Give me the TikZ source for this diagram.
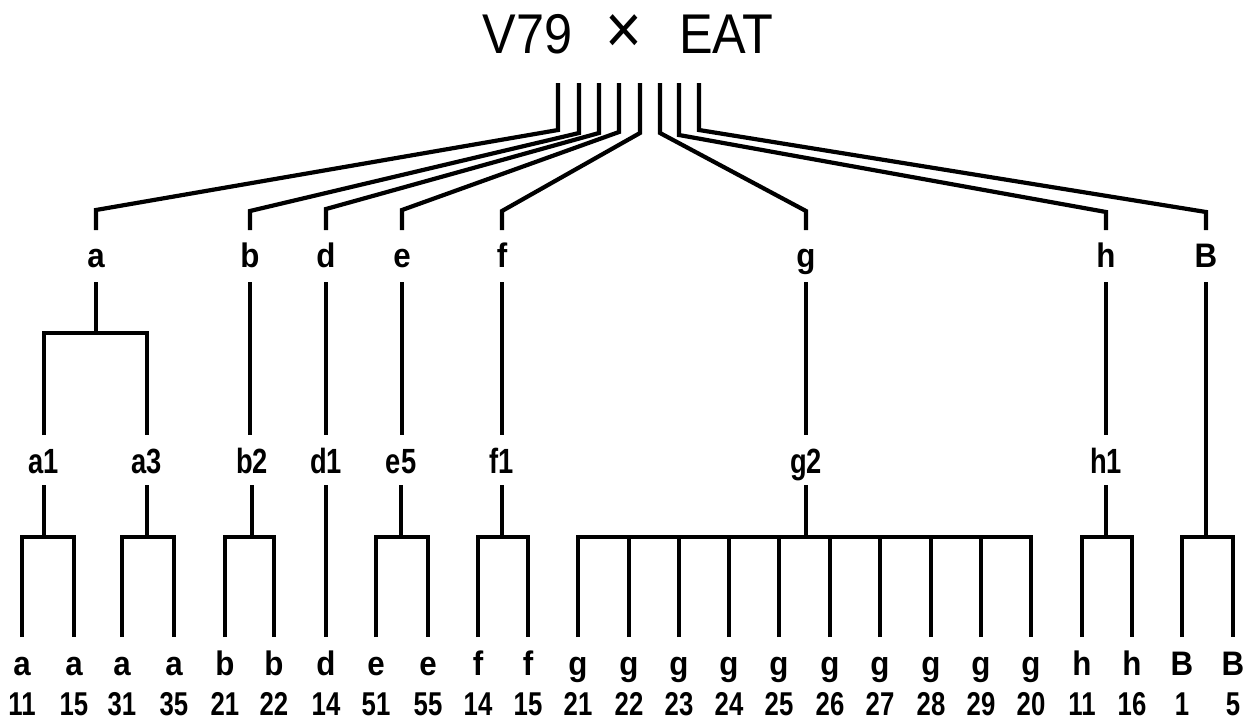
\documentclass[tikz,border=0pt]{standalone}
\usepackage{fontspec}
\setmainfont{Liberation Sans}
\newfontfamily\titlef[FakeStretch=0.9]{Liberation Sans}
\newfontfamily\labf[FakeStretch=0.92]{Liberation Sans}
\newfontfamily\numf[FakeStretch=0.78]{Liberation Sans}
\usetikzlibrary{calc}
\tikzset{
  ln/.style={line width=4.2pt, line join=miter, line cap=butt},
  lab/.style={inner sep=0pt, anchor=base, font=\labf\bfseries\fontsize{34}{34}\selectfont},
  lab2/.style={inner sep=0pt, anchor=base, font=\numf\bfseries\fontsize{35}{35}\selectfont},
  num/.style={inner sep=0pt, anchor=base, font=\numf\bfseries\fontsize{33}{33}\selectfont},
  ttl/.style={inner sep=0pt, anchor=base, font=\titlef\fontsize{56}{56}\selectfont}
}
\begin{document}
\begin{tikzpicture}[x=1pt,y=-1pt]
\fill[white] (0,0) rectangle (1255,721);
\useasboundingbox (0,0) rectangle (1255,721);

% title
\node[ttl] (title) at (628,53) {V79\hspace{0.6em}{\fontsize{70}{70}\selectfont ×}\hspace{0.65em}EAT};

% stem tops
\coordinate (s1) at (558,83);
\coordinate (s2) at (579,83);
\coordinate (s3) at (599,83);
\coordinate (s4) at (619,83);
\coordinate (s5) at (640,83);
\coordinate (s6) at (660,83);
\coordinate (s7) at (679,83);
\coordinate (s8) at (699,83);

% row 1
\node[lab] (a) at (96,267) {a};
\node[lab] (b) at (250,267) {b};
\node[lab] (d) at (326,267) {d};
\node[lab] (e) at (402,267) {e};
\node[lab] (f) at (502,267) {f};
\node[lab] (g) at (806,267) {g};
\node[lab] (h) at (1106,267) {h};
\node[lab] (B) at (1206,267) {B};

% row 2
\node[lab2] (a1) at (44,473) {a1};
\node[lab2] (a3) at (147,473) {a3};
\node[lab2] (b2) at (252,473) {b2};
\node[lab2] (d1) at (326,473) {d1};
\node[lab2] (e5) at (401,473) {e5};
\node[lab2] (f1) at (502,473) {f1};
\node[lab2] (g2) at (806,473) {g2};
\node[lab2] (h1) at (1106,473) {h1};

% leaves
\foreach \x/\n/\L/\N in {22/a11/a/11, 74/a15/a/15, 122/a31/a/31, 174/a35/a/35,
  225/b21/b/21, 274/b22/b/22, 326/d14/d/14, 376/e51/e/51, 428/e55/e/55,
  478/f14/f/14, 528/f15/f/15,
  578/g21/g/21, 629/g22/g/22, 679/g23/g/23, 729/g24/g/24, 779/g25/g/25,
  830/g26/g/26, 880/g27/g/27, 931/g28/g/28, 981/g29/g/29, 1031/g20/g/20,
  1082/h11/h/11, 1132/h16/h/16, 1182/B1/B/1, 1233/B5/B/5}{
  \node[lab] (l\n) at (\x,675) {\L};
  \node[num] (n\n) at (\x,715) {\N};
}

% top fan
\draw[ln] (s1) -- ++(0,47) -- ($(a.base)+(0,-57)$) -- ($(a.base)+(0,-37)$);
\draw[ln] (s2) -- ++(0,50) -- ($(b.base)+(0,-56)$) -- ($(b.base)+(0,-37)$);
\draw[ln] (s3) -- ++(0,50) -- ($(d.base)+(0,-58)$) -- ($(d.base)+(0,-37)$);
\draw[ln] (s4) -- ++(0,49) -- ($(e.base)+(0,-57)$) -- ($(e.base)+(0,-37)$);
\draw[ln] (s5) -- ++(0,50) -- ($(f.base)+(0,-56)$) -- ($(f.base)+(0,-37)$);
\draw[ln] (s6) -- ++(0,50) -- ($(g.base)+(0,-56)$) -- ($(g.base)+(0,-37)$);
\draw[ln] (s7) -- ++(0,52) -- ($(h.base)+(0,-55)$) -- ($(h.base)+(0,-37)$);
\draw[ln] (s8) -- ++(0,47) -- ($(B.base)+(0,-55)$) -- ($(B.base)+(0,-37)$);

% row 1 -> row 2
\draw[ln] ($(a.base)+(0,15)$) -- ($(a.base)+(0,66)$);
\draw[ln] ($(a1.base)+(0,-38)$) |- ($(a.base)+(0,66)$) -| ($(a3.base)+(0,-38)$);
\draw[ln] ($(b.base)+(0,15)$) -- ($(b.base)+(0,168)$);
\draw[ln] ($(d.base)+(0,15)$) -- ($(d1.base)+(0,-38)$);
\draw[ln] ($(e.base)+(0,15)$) -- ($(e.base)+(0,168)$);
\draw[ln] ($(f.base)+(0,15)$) -- ($(f1.base)+(0,-38)$);
\draw[ln] ($(g.base)+(0,15)$) -- ($(g2.base)+(0,-38)$);
\draw[ln] ($(h.base)+(0,15)$) -- ($(h1.base)+(0,-38)$);
\draw[ln] ($(B.base)+(0,15)$) -- ($(B.base)+(0,270)$);

% row 2 -> leaves
\foreach \p/\l/\r in {a1/a11/a15, a3/a31/a35, b2/b21/b22, e5/e51/e55, f1/f14/f15, g2/g21/g20, h1/h11/h16}{
  \draw[ln] ($(\p.base)+(0,12)$) -- ($(\p.base)+(0,64)$);
  \draw[ln] ($(l\l.base)+(0,-38)$) |- ($(\p.base)+(0,64)$) -| ($(l\r.base)+(0,-38)$);
}
\draw[ln] ($(d1.base)+(0,12)$) -- ($(ld14.base)+(0,-38)$);
\draw[ln] ($(lB1.base)+(0,-38)$) |- ($(B.base)+(0,270)$) -| ($(lB5.base)+(0,-38)$);
\foreach \n in {g22,g23,g24,g25,g26,g27,g28,g29}{
  \draw[ln] ($(l\n.base)+(0,-38)$) -- ++(0,-100);
}
\end{tikzpicture}
\end{document}
